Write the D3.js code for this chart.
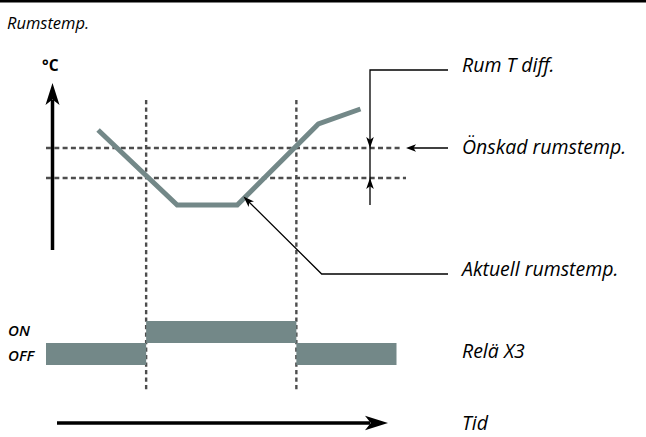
<!DOCTYPE html>
<html>
<head>
<meta charset="utf-8">
<script src="https://cdn.jsdelivr.net/npm/d3@7"></script>
<style>
  body { margin: 0; background: #fff; }
  text { font-family: "Open Sans", "Noto Sans", sans-serif; }
</style>
</head>
<body>
<div id="chart"></div>
<script>
// data
const timeDomain = [0, 350];
const switchTimes = [100, 250];                  // relay switches on / off
const tempTimes = [52, 131, 191, 272, 314];      // room temperature curve
const tempValues = [21.6, 19.1, 19.1, 21.8, 22.3];
const setpoint = 21;
const tDiff = 1;
const relayBounds = [0, 100, 250, 350];
const relayStates = ["OFF", "ON", "OFF"];
const relayLevels = ["ON", "OFF"];
const rightLabels = ["Rum T diff.", "Önskad rumstemp.", "Aktuell rumstemp.", "Relä X3", "Tid"];

const width = 646, height = 437;
const grey = "#738888", dash = "#4d4d4d";

const svg = d3.select("#chart").append("svg")
    .attr("width", width)
    .attr("height", height);

const x = d3.scaleLinear().domain(timeDomain).range([46, 396.5]);
const y = d3.scaleLinear().domain([17.6, 23.2]).range([250, 82]);
const relayY = d3.scaleBand().domain(relayLevels).range([321, 365]).padding(0);

// arrow head helper: tip at (tx,ty), pointing along angle a
function head(tx, ty, a, len, hw) {
    const c = Math.cos(a), s = Math.sin(a);
    const bx = tx - c * len, by = ty - s * len;
    const nx = tx - c * len * 0.75, ny = ty - s * len * 0.75;
    return `M${tx},${ty}L${bx - s * hw},${by + c * hw}L${nx},${ny}L${bx + s * hw},${by - c * hw}Z`;
}

// top rule
svg.append("rect").attr("x", 0).attr("y", 0).attr("width", width).attr("height", 2.5).attr("fill", "#000");

svg.append("text")
    .attr("x", 7).attr("y", 29)
    .attr("font-size", 16.5).attr("font-style", "italic")
    .text("Rumstemp.");

// y axis arrow
svg.append("line")
    .attr("x1", 52.5).attr("x2", 52.5)
    .attr("y1", y(17.6)).attr("y2", 100)
    .attr("stroke", "#000").attr("stroke-width", 3.5);
svg.append("path").attr("d", head(52.5, 83, -Math.PI / 2, 22, 7)).attr("fill", "#000");
svg.append("text")
    .attr("x", 42).attr("y", 71)
    .attr("font-size", 15.5).attr("font-weight", 700)
    .text("°C");

// dashed reference lines
const dashed = svg.append("g")
    .attr("stroke", dash).attr("stroke-width", 2.4).attr("stroke-dasharray", "5,3.3");
dashed.append("line")
    .attr("x1", 46).attr("x2", 402).attr("y1", y(setpoint)).attr("y2", y(setpoint));
dashed.append("line")
    .attr("x1", 46).attr("x2", 406).attr("y1", y(setpoint - tDiff)).attr("y2", y(setpoint - tDiff));
dashed.selectAll(".v")
    .data(switchTimes)
    .join("line")
    .attr("class", "v")
    .attr("x1", d => x(d)).attr("x2", d => x(d))
    .attr("y1", 100).attr("y2", 391)
    .attr("stroke-dasharray", "4.2,3.3");

// temperature curve
const curve = tempTimes.map((t, i) => [x(t), y(tempValues[i])]);
svg.append("path")
    .attr("d", d3.line()(curve))
    .attr("fill", "none")
    .attr("stroke", grey).attr("stroke-width", 5)
    .attr("stroke-linejoin", "miter");

// relay bars
svg.append("g")
    .selectAll("rect")
    .data(relayStates)
    .join("rect")
    .attr("x", (d, i) => x(relayBounds[i]))
    .attr("width", (d, i) => x(relayBounds[i + 1]) - x(relayBounds[i]))
    .attr("y", d => relayY(d))
    .attr("height", relayY.bandwidth())
    .attr("fill", grey);

svg.append("g")
    .selectAll("text")
    .data(relayLevels)
    .join("text")
    .attr("x", 8)
    .attr("y", d => relayY(d) + relayY.bandwidth() / 2 + (d === "ON" ? -1 : 1.5))
    .attr("dy", "0.35em")
    .attr("font-size", 15).attr("font-style", "italic").attr("font-weight", 600)
    .text(d => d);

// annotations
const ann = svg.append("g").attr("stroke", "#000").attr("stroke-width", 1.3).attr("fill", "none");
// Rum T diff.
ann.append("path").attr("d", `M448,70H370V${y(setpoint - tDiff) + 27}`);
svg.append("path").attr("d", head(370, y(setpoint), Math.PI / 2, 11, 3.8)).attr("fill", "#000");
svg.append("path").attr("d", head(370, y(setpoint - tDiff), -Math.PI / 2, 11, 3.8)).attr("fill", "#000");
// Önskad rumstemp.
ann.append("path").attr("d", `M448,${y(setpoint)}H410`);
svg.append("path").attr("d", head(406, y(setpoint), Math.PI, 10, 3.8)).attr("fill", "#000");
// Aktuell rumstemp.
const tip = [243.5, 196.5];
ann.append("path").attr("d", `M448,274H321.7L${tip[0] + 4},${tip[1] + 4}`);
svg.append("path")
    .attr("d", head(tip[0], tip[1], Math.atan2(tip[1] - 274, tip[0] - 321.7), 11, 3.8))
    .attr("fill", "#000");

// time arrow
svg.append("line")
    .attr("x1", 57).attr("x2", 370)
    .attr("y1", 423).attr("y2", 423)
    .attr("stroke", "#000").attr("stroke-width", 3.5);
svg.append("path").attr("d", head(388, 423, 0, 23, 7.3)).attr("fill", "#000");

// right hand labels
const labelY = [72, 154, 276, 358, 430];
svg.append("g")
    .selectAll("text")
    .data(rightLabels)
    .join("text")
    .attr("x", 462)
    .attr("y", (d, i) => labelY[i])
    .attr("font-size", 19.5).attr("font-style", "italic")
    .text(d => d);
</script>
</body>
</html>
